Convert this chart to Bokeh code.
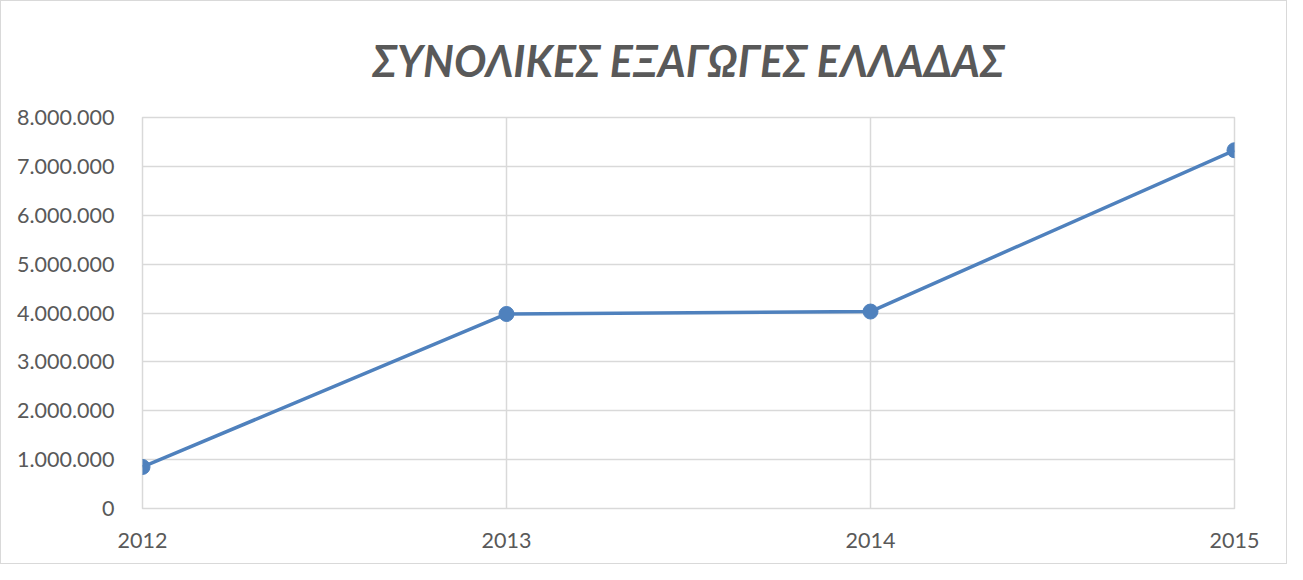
from bokeh.plotting import figure
from bokeh.embed import file_html
from bokeh.resources import INLINE
from bokeh.models import Range1d, FixedTicker, CustomJSTickFormatter

years = [2012, 2013, 2014, 2015]
exports = [850000, 3980000, 4030000, 7330000]
y_ticks = [0, 1000000, 2000000, 3000000, 4000000, 5000000, 6000000, 7000000, 8000000]
title_text = "ΣΥΝΟΛΙΚΕΣ ΕΞΑΓΩΓΕΣ ΕΛΛΑΔΑΣ"

p = figure(width=1287, height=564, output_backend="svg", toolbar_location=None,
           x_range=Range1d(2012, 2015), y_range=Range1d(0, 8000000),
           min_border_left=141, min_border_right=54, min_border_top=0, min_border_bottom=57)
p.styles = {"border": "1px solid #D9D9D9", "box-sizing": "border-box"}

p.title.text = title_text
p.title.align = "center"
p.title.text_font = "Lato"
p.title.text_font_style = "bold italic"
p.title.text_font_size = "43px"
p.title.text_color = "#595959"
p.title.standoff = 63

p.outline_line_color = "#D9D9D9"
p.outline_line_width = 1.5
p.xaxis.ticker = FixedTicker(ticks=years)
p.yaxis.ticker = FixedTicker(ticks=y_ticks)
p.yaxis.formatter = CustomJSTickFormatter(code="return tick.toFixed(0).replace(/\\B(?=(\\d{3})+(?!\\d))/g, '.');")
p.xaxis.formatter = CustomJSTickFormatter(code="return tick.toFixed(0);")
for ax in (p.xaxis, p.yaxis):
    ax.axis_line_color = None
    ax.major_tick_line_color = None
    ax.minor_tick_line_color = None
    ax.major_label_text_font = "Lato"
    ax.major_label_text_font_size = "21.5px"
    ax.major_label_text_color = "#595959"
p.yaxis.major_label_standoff = 22
p.xaxis.major_label_standoff = 18

p.xgrid.grid_line_color = "#D9D9D9"
p.ygrid.grid_line_color = "#D9D9D9"
p.xgrid.grid_line_width = 1.5
p.ygrid.grid_line_width = 1.5

p.line(years, exports, line_color="#4F81BD", line_width=3.5)
p.scatter(years, exports, size=15, fill_color="#4F81BD", line_color="#4F81BD")

open("out.html", "w").write(file_html(p, INLINE))
